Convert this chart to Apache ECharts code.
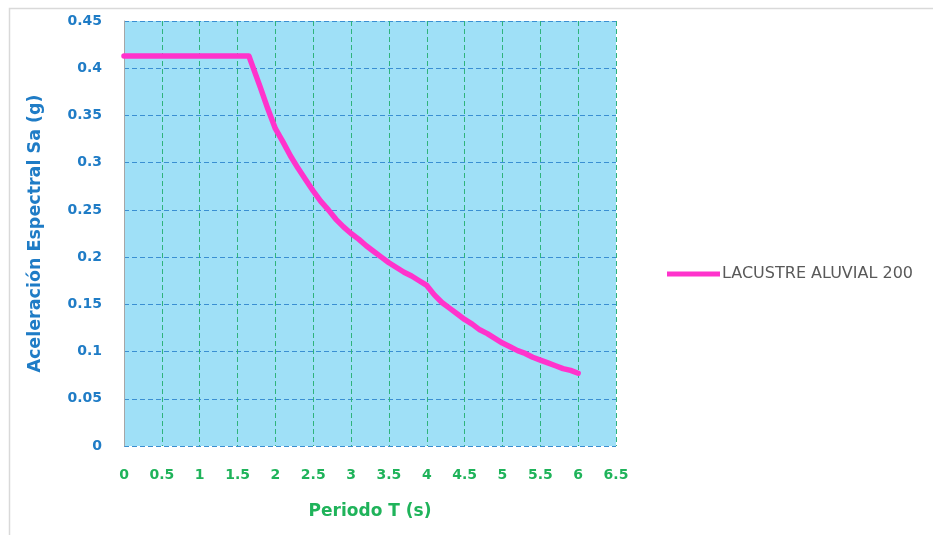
<!DOCTYPE html>
<html>
<head>
<meta charset="utf-8">
<script src="https://cdn.jsdelivr.net/npm/echarts@6/dist/echarts.min.js"></script>
<style>
  html, body { margin: 0; padding: 0; background: #ffffff; }
  #chart { width: 933px; height: 535px; }
</style>
</head>
<body>
<div id="chart"></div>
<script>
// Design spectrum: period T (s) and spectral acceleration Sa (g)
const periods = [0, 1.65, 1.7, 1.8, 1.9, 2.0, 2.1, 2.2, 2.3, 2.4, 2.5, 2.6, 2.7, 2.8, 2.9,
  3.0, 3.1, 3.2, 3.3, 3.4, 3.5, 3.6, 3.7, 3.8, 3.9, 4.0, 4.1, 4.2, 4.3, 4.4, 4.5,
  4.6, 4.7, 4.8, 4.9, 5.0, 5.1, 5.2, 5.3, 5.4, 5.5, 5.6, 5.7, 5.8, 5.9, 6.0];
const saValues = [0.413, 0.413, 0.402, 0.380, 0.357, 0.336, 0.322, 0.307, 0.294, 0.282, 0.270,
  0.259, 0.250, 0.240, 0.232, 0.225, 0.219, 0.212, 0.206, 0.200, 0.194, 0.189, 0.184,
  0.180, 0.175, 0.170, 0.160, 0.152, 0.146, 0.140, 0.134, 0.129, 0.123, 0.119, 0.114,
  0.109, 0.105, 0.101, 0.098, 0.094, 0.091, 0.088, 0.085, 0.082, 0.080, 0.077];
const seriesName = 'LACUSTRE ALUVIAL 200';
const xTitle = 'Periodo T (s)';
const yTitle = 'Aceleración Espectral Sa (g)';

const chart = echarts.init(document.getElementById('chart'), null, { renderer: 'canvas' });

const labelFont = 'DejaVu Sans';

chart.setOption({
  animation: false,
  backgroundColor: '#ffffff',
  graphic: [{
    type: 'rect',
    shape: { x: 9.5, y: 8.5, width: 940, height: 540 },
    style: { fill: 'none', stroke: '#d9d9d9', lineWidth: 1.5 },
    silent: true
  }],
  grid: {
    left: 124, top: 21, right: 317, bottom: 89,
    show: true, backgroundColor: '#9fe0f7', borderWidth: 0
  },
  legend: {
    left: 667, top: 266, padding: 0,
    icon: 'rect', itemWidth: 53, itemHeight: 5, itemGap: 0,
    textStyle: { color: '#595959', fontSize: 16, fontFamily: labelFont, padding: [0, 0, 0, -3] },
    data: [seriesName]
  },
  xAxis: {
    type: 'value', min: 0, max: 6.5, interval: 0.5,
    name: xTitle, nameLocation: 'middle', nameGap: 57,
    nameTextStyle: { color: '#1fb35a', fontSize: 17, fontWeight: 'bold', fontFamily: labelFont },
    axisLine: { show: false },
    axisTick: { show: false },
    axisLabel: { color: '#1fb35a', fontSize: 14, fontWeight: 'bold', fontFamily: labelFont, margin: 22 },
    splitLine: { show: true, lineStyle: { color: '#2fb37c', width: 1, type: [5, 3] } }
  },
  yAxis: {
    type: 'value', min: 0, max: 0.45, interval: 0.05,
    name: yTitle, nameLocation: 'middle', nameGap: 80, nameRotate: 90,
    nameTextStyle: { color: '#1f7cc6', fontSize: 17.5, fontWeight: 'bold', fontFamily: labelFont },
    axisLine: { show: true, lineStyle: { color: '#a6a6a6', width: 1 } },
    axisTick: { show: false },
    axisLabel: { color: '#1f7cc6', fontSize: 14, fontWeight: 'bold', fontFamily: labelFont, margin: 22 },
    splitLine: { show: true, lineStyle: { color: '#3a8fd2', width: 1, type: [5, 3] } }
  },
  series: [{
    name: seriesName,
    type: 'line',
    data: periods.map((t, i) => [t, saValues[i]]),
    showSymbol: false,
    symbol: 'none',
    lineStyle: { color: '#ff33cc', width: 5.5, cap: 'round', join: 'round' },
    itemStyle: { color: '#ff33cc' }
  }]
});
</script>
</body>
</html>
